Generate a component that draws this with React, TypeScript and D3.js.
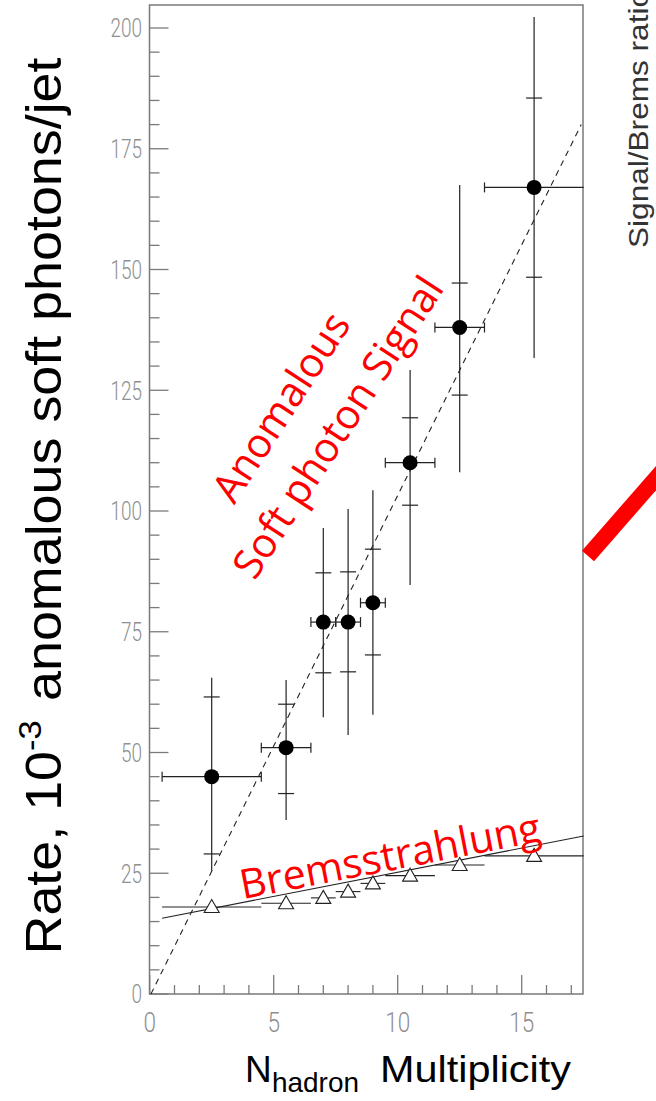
import React from "react";
import * as d3 from "d3";

const signalX = [2.5, 5.5, 7, 8, 9, 10.5, 12.5, 15.5];
const signalY = [45, 51, 77, 77, 81, 110, 138, 167];
const binLow = [0.5, 4.5, 6.5, 7.5, 8.5, 9.5, 11.5, 13.5];
const binHigh = [4.5, 6.5, 7.5, 8.5, 9.5, 11.5, 13.5, 17.5];
const statLow = [29, 41.5, 66.5, 66.7, 70.2, 101.2, 124, 148.4];
const statHigh = [61.5, 60, 87.2, 87.4, 92.1, 119.3, 147.2, 185.5];
const totLow = [25.5, 36, 57.3, 53.6, 57.8, 84.7, 108, 131.7];
const totHigh = [65.5, 65, 96.5, 100.4, 104.3, 129.2, 167.5, 202.3];

const bremsY = [18.0, 18.8, 19.9, 21.2, 22.9, 24.5, 26.7, 28.6];

const signalFit: [number, number][] = [[0.05, 0], [17.4, 180]];
const bremsFit: [number, number][] = [[0.5, 15.7], [17.5, 32.7]];

const yTickLabels = [0, 25, 50, 75, 100, 125, 150, 175, 200];
const xTickLabels = [0, 5, 10, 15];

const W = 656;
const H = 1101;

export default function App() {
  const x = d3.scaleLinear().domain([0, 17.5]).range([149.7, 583.7]);
  const y = d3.scaleLinear().domain([0, 200]).range([994, 28]);
  const left = 149.5;
  const right = 583;
  const top = 5;
  const bottom = 994;
  const frame = "#7a7a7a";
  const ink = "#222";
  const line = d3.line<[number, number]>().x((d) => x(d[0])).y((d) => y(d[1]));

  const yMinor = d3.range(0, 201, 5);
  const xMinor = d3.range(0, 18, 1);
  const tickFont = "Roboto, 'DejaVu Sans', sans-serif";
  const redFont = "'Open Sans', 'Noto Sans', sans-serif";

  return (
    <svg width={W} height={H} style={{ position: "absolute", left: 0, top: 0, background: "#fff" }}>
      <rect x={0} y={0} width={W} height={H} fill="#fff" />
      {/* frame */}
      <path d={`M${left},${top}H${right}V${bottom}H${left}Z`} fill="none" stroke={frame} strokeWidth={1.5} />
      {/* y ticks */}
      {yMinor.map((v) => (
        <line key={"ym" + v} x1={left} x2={left + (v % 25 === 0 ? 19 : 10)} y1={y(v)} y2={y(v)} stroke={frame} strokeWidth={1.3} />
      ))}
      {/* x ticks */}
      {xMinor.map((v) => (
        <line key={"xm" + v} x1={x(v)} x2={x(v)} y1={bottom} y2={bottom - (v % 5 === 0 ? 19 : 9)} stroke={frame} strokeWidth={1.3} />
      ))}
      {yTickLabels.map((v) => (
        <text
          key={"yl" + v}
          x={142}
          y={y(v)}
          dy="0.36em"
          textAnchor="end"
          fontFamily={tickFont}
          fontWeight={300}
          fontSize={26}
          fill="#8f8f8f"
          textLength={10.5 * String(v).length}
          lengthAdjust="spacingAndGlyphs"
        >
          {v}
        </text>
      ))}
      {xTickLabels.map((v) => (
        <text
          key={"xl" + v}
          x={x(v)}
          y={1032}
          textAnchor="middle"
          fontFamily={tickFont}
          fontWeight={300}
          fontSize={28}
          fill="#8f8f8f"
          textLength={12.5 * String(v).length}
          lengthAdjust="spacingAndGlyphs"
        >
          {v}
        </text>
      ))}

      {/* fits */}
      <path d={line(signalFit) || ""} fill="none" stroke={ink} strokeWidth={1.1} strokeDasharray="6,5" />
      <path d={line(bremsFit) || ""} fill="none" stroke={ink} strokeWidth={1.1} />

      {/* brems points */}
      {bremsY.map((v, i) => {
        const cx = x(signalX[i]);
        const cy = y(v);
        return (
          <g key={"b" + i}>
            <line x1={x(binLow[i])} x2={x(binHigh[i])} y1={cy} y2={cy} stroke={ink} strokeWidth={1.1} />
            <path d={`M${cx},${cy - 7.5}L${cx + 7.5},${cy + 5.5}L${cx - 7.5},${cy + 5.5}Z`} fill="#fff" stroke={ink} strokeWidth={1.1} />
          </g>
        );
      })}

      {/* signal points */}
      {signalY.map((v, i) => {
        const cx = x(signalX[i]);
        const cy = y(v);
        const xl = x(binLow[i]);
        const xh = x(binHigh[i]);
        return (
          <g key={"s" + i} stroke={ink} strokeWidth={1.2}>
            <line x1={xl} x2={xh} y1={cy} y2={cy} />
            <line x1={xl} x2={xl} y1={cy - 5} y2={cy + 5} />
            {binHigh[i] < 17.4 && <line x1={xh} x2={xh} y1={cy - 5} y2={cy + 5} />}
            <line x1={cx} x2={cx} y1={y(totLow[i])} y2={y(totHigh[i])} />
            <line x1={cx - 8} x2={cx + 8} y1={y(statLow[i])} y2={y(statLow[i])} />
            <line x1={cx - 8} x2={cx + 8} y1={y(statHigh[i])} y2={y(statHigh[i])} />
            <circle cx={cx} cy={cy} r={7.5} fill="#000" stroke="none" />
          </g>
        );
      })}

      {/* y axis label */}
      <text
        transform="translate(61,506) rotate(-90)"
        textAnchor="middle"
        fontFamily="'Liberation Sans', Arial, sans-serif"
        fontSize={50}
        fill="#000"
        textLength={897}
        lengthAdjust="spacingAndGlyphs"
      >
        <tspan>Rate, 10</tspan>
        <tspan fontSize={32} dy={-20}>-3</tspan>
        <tspan dy={20} dx={18}>anomalous soft photons/jet</tspan>
      </text>

      {/* x axis label */}
      <text x={245} y={1082} fontFamily="'Liberation Sans', Arial, sans-serif" fontSize={37} fill="#000">N</text>
      <text x={272} y={1092} fontFamily="'Liberation Sans', Arial, sans-serif" fontSize={28} fill="#000" textLength={87} lengthAdjust="spacingAndGlyphs">hadron</text>
      <text x={380} y={1082} fontFamily="'Liberation Sans', Arial, sans-serif" fontSize={37} fill="#000" textLength={191} lengthAdjust="spacingAndGlyphs">Multiplicity</text>

      {/* red annotations */}
      <text transform="translate(281,407) rotate(-57)" dy="0.35em" textAnchor="middle" fontFamily={redFont} fontSize={41} fill="#ff0000">
        Anomalous
      </text>
      <text transform="translate(338,427) rotate(-57)" dy="0.35em" textAnchor="middle" fontFamily={redFont} fontSize={41} fill="#ff0000">
        Soft photon Signal
      </text>
      <text transform="translate(390,856) rotate(-11)" dy="0.35em" textAnchor="middle" fontFamily={redFont} fontSize={41} fill="#ff0000">
        Bremsstrahlung
      </text>

      {/* red arrow stub (decoration from neighbouring panel) */}
      <line x1={588} y1={556} x2={720} y2={405} stroke="#ff0000" strokeWidth={16} />

      {/* neighbouring panel label, cut off */}
      <text
        transform="translate(648,248) rotate(-90)"
        fontFamily="'Liberation Sans', Arial, sans-serif"
        fontSize={28}
        fill="#333"
        textLength={258}
        lengthAdjust="spacingAndGlyphs"
      >
        Signal/Brems ratio
      </text>
    </svg>
  );
}
